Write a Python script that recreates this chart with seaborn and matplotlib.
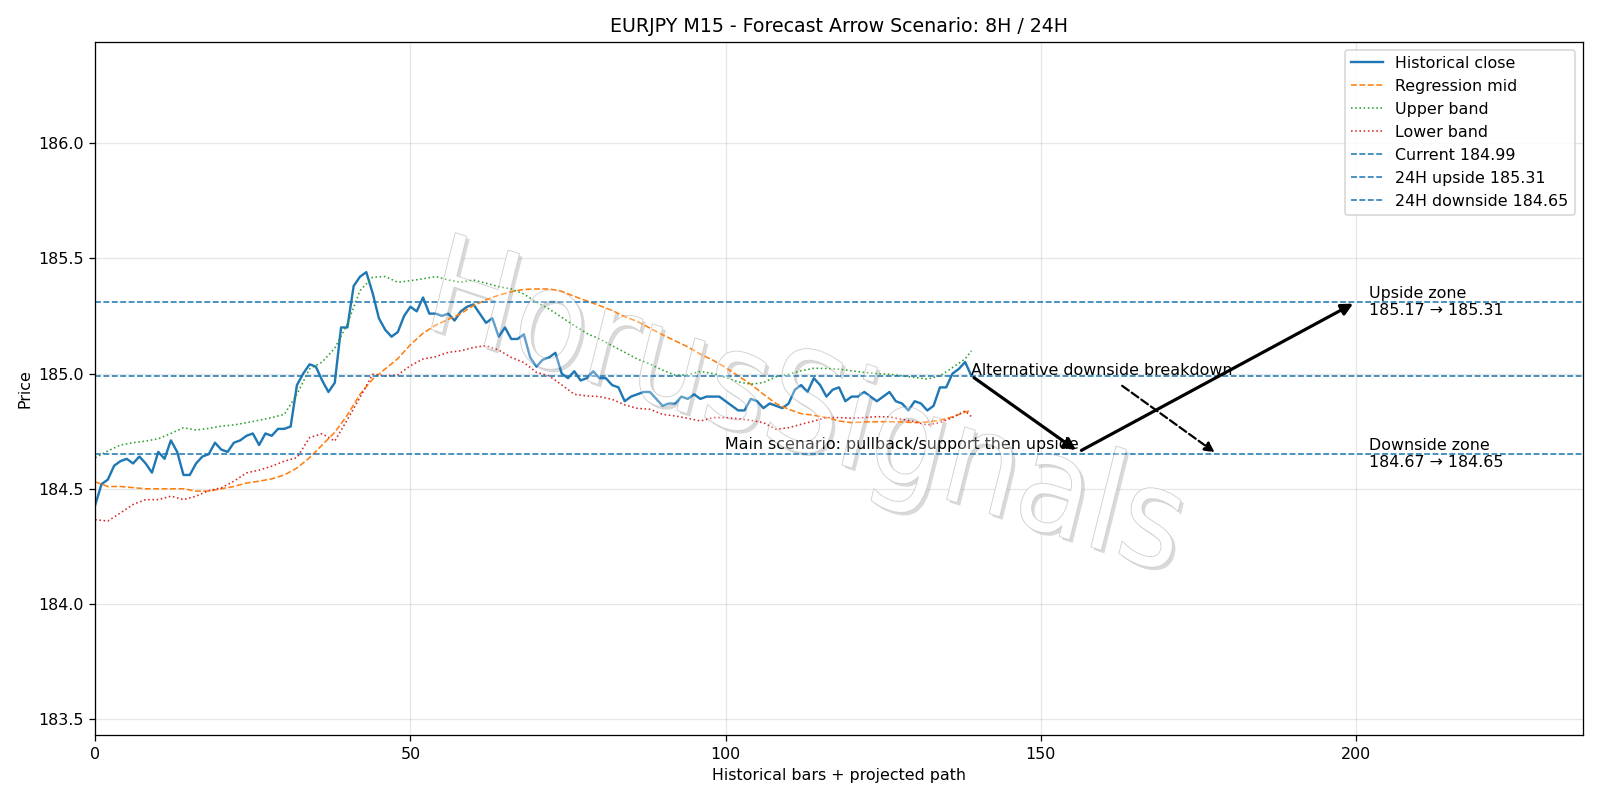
import matplotlib
matplotlib.use("Agg")
import matplotlib.pyplot as plt
import seaborn as sns
from matplotlib.textpath import TextPath
from matplotlib.patches import PathPatch
from matplotlib.font_manager import FontProperties
from matplotlib.transforms import Affine2D, IdentityTransform

# historical M15 closes (bars 0..139)
close = [
    184.43, 184.52, 184.54, 184.60, 184.62, 184.63, 184.61, 184.64, 184.61, 184.57,
    184.66, 184.63, 184.71, 184.66, 184.56, 184.56, 184.61, 184.64, 184.65, 184.70,
    184.67, 184.66, 184.70, 184.71, 184.73, 184.74, 184.69, 184.74, 184.73, 184.76,
    184.76, 184.77, 184.95, 185.00, 185.04, 185.03, 184.97, 184.92, 184.96, 185.20,
    185.20, 185.38, 185.42, 185.44, 185.35, 185.24, 185.19, 185.16, 185.18, 185.25,
    185.29, 185.27, 185.33, 185.26, 185.26, 185.25, 185.26, 185.23, 185.27, 185.29,
    185.30, 185.26, 185.22, 185.24, 185.16, 185.20, 185.15, 185.15, 185.17, 185.07,
    185.03, 185.06, 185.07, 185.09, 185.00, 184.98, 185.01, 184.97, 184.98, 185.01,
    184.98, 184.98, 184.95, 184.94, 184.88, 184.90, 184.91, 184.92, 184.92, 184.89,
    184.86, 184.87, 184.87, 184.90, 184.89, 184.91, 184.89, 184.90, 184.90, 184.90,
    184.88, 184.86, 184.84, 184.84, 184.89, 184.88, 184.85, 184.87, 184.86, 184.85,
    184.87, 184.93, 184.95, 184.92, 184.98, 184.95, 184.90, 184.93, 184.94, 184.88,
    184.90, 184.90, 184.92, 184.90, 184.88, 184.90, 184.92, 184.88, 184.87, 184.84,
    184.88, 184.87, 184.84, 184.86, 184.94, 184.94, 185.00, 185.02, 185.05, 184.99,
]
bars = list(range(len(close)))

# regression channel, read every 2 bars
band_x = list(range(0, 139, 2)) + [139]
mid = [
    184.53, 184.51, 184.51, 184.505, 184.50, 184.50, 184.50, 184.50, 184.49, 184.49,
    184.50, 184.51, 184.525, 184.533, 184.543, 184.56, 184.59, 184.635, 184.69, 184.745,
    184.82, 184.91, 184.975, 185.02, 185.065, 185.125, 185.175, 185.21, 185.235, 185.26,
    185.295, 185.32, 185.34, 185.355, 185.365, 185.367, 185.367, 185.357, 185.335, 185.315,
    185.295, 185.273, 185.247, 185.226, 185.197, 185.168, 185.142, 185.116, 185.084, 185.058,
    185.026, 184.99, 184.954, 184.91, 184.87, 184.845, 184.826, 184.819, 184.809, 184.794,
    184.787, 184.79, 184.791, 184.791, 184.79, 184.787, 184.79, 184.797, 184.812, 184.833,
    184.84,
]
upper = [
    184.635, 184.664, 184.69, 184.70, 184.707, 184.717, 184.74, 184.765, 184.755, 184.762,
    184.772, 184.777, 184.787, 184.797, 184.809, 184.823, 184.91, 185.02, 185.05, 185.11,
    185.215, 185.36, 185.418, 185.421, 185.396, 185.403, 185.411, 185.421, 185.406, 185.396,
    185.406, 185.392, 185.377, 185.367, 185.345, 185.31, 185.28, 185.244, 185.208, 185.174,
    185.15, 185.121, 185.092, 185.063, 185.041, 185.015, 184.993, 184.994, 185.009, 185.0,
    184.983, 184.964, 184.954, 184.961, 184.986, 184.997, 185.012, 185.023, 185.022, 185.019,
    185.012, 185.005, 185.0, 184.997, 184.99, 184.983, 184.976, 184.99, 185.026, 185.063,
    185.099,
]
lower = [
    184.366, 184.36, 184.395, 184.432, 184.453, 184.453, 184.468, 184.453, 184.468, 184.492,
    184.504, 184.533, 184.569, 184.581, 184.598, 184.62, 184.635, 184.722, 184.739, 184.707,
    184.80, 184.896, 184.997, 184.99, 184.994, 185.034, 185.063, 185.073, 185.092, 185.099,
    185.113, 185.121, 185.102, 185.07, 185.048, 185.005, 184.99, 184.951, 184.91, 184.903,
    184.90, 184.888, 184.864, 184.849, 184.845, 184.823, 184.816, 184.806, 184.794, 184.809,
    184.809, 184.804, 184.797, 184.787, 184.758, 184.765, 184.78, 184.794, 184.809, 184.809,
    184.806, 184.809, 184.813, 184.812, 184.801, 184.791, 184.777, 184.787, 184.809, 184.838,
    184.813,
]

current = 184.99
up_24h = 185.31
down_24h = 184.65
up_zone = (185.17, 185.31)
down_zone = (184.67, 184.65)

# projected path points (bar index, price)
pullback = (156, 184.66)
target_up = (200, 185.31)
alt_start = (162.5, 184.955)
alt_end = (178, 184.65)

fig, ax = plt.subplots(figsize=(14, 7), dpi=800 / 7)

sns.lineplot(x=bars, y=close, ax=ax, color="C0", linewidth=1.5, label="Historical close")
sns.lineplot(x=band_x, y=mid, ax=ax, color="C1", linewidth=1, linestyle="--", label="Regression mid")
sns.lineplot(x=band_x, y=upper, ax=ax, color="C2", linewidth=1, linestyle=":", label="Upper band")
sns.lineplot(x=band_x, y=lower, ax=ax, color="C3", linewidth=1, linestyle=":", label="Lower band")

ax.axhline(current, color="C0", linestyle="--", linewidth=1, label=f"Current {current:.2f}")
ax.axhline(up_24h, color="C0", linestyle="--", linewidth=1, label=f"24H upside {up_24h:.2f}")
ax.axhline(down_24h, color="C0", linestyle="--", linewidth=1, label=f"24H downside {down_24h:.2f}")

last = (bars[-1], close[-1])
ax.annotate("", xy=pullback, xytext=last,
            arrowprops=dict(arrowstyle="-|>", color="black", lw=2, mutation_scale=15))
ax.annotate("", xy=target_up, xytext=pullback,
            arrowprops=dict(arrowstyle="-|>", color="black", lw=2, mutation_scale=15))
ax.annotate("", xy=alt_end, xytext=alt_start,
            arrowprops=dict(arrowstyle="-|>", color="black", lw=1.4, linestyle="--", mutation_scale=13))

ax.text(pullback[0], pullback[1], "Main scenario: pullback/support then upside",
        ha="right", va="bottom", fontsize=10)
ax.text(last[0], current - 0.01, "Alternative downside breakdown", ha="left", va="bottom", fontsize=10)
ax.text(202, up_24h, f"Upside zone\n{up_zone[0]:.2f} \u2192 {up_zone[1]:.2f}", ha="left", va="center", fontsize=10)
ax.text(202, down_24h, f"Downside zone\n{down_zone[0]:.2f} \u2192 {down_zone[1]:.2f}", ha="left", va="center", fontsize=10)

ax.set_xlim(0, 236)
ax.set_ylim(min(close) - 1.0, max(close) + 1.0)
ax.grid(True, alpha=0.3)
ax.set_title("EURJPY M15 - Forecast Arrow Scenario: 8H / 24H")
ax.set_xlabel("Historical bars + projected path")
ax.set_ylabel("Price")
ax.legend(loc="upper right")

plt.tight_layout()

# watermark: slanted outlined text with a soft shadow, in pixel coords
tp = TextPath((0, 0), "HorusSignals", size=1, prop=FontProperties(family="DejaVu Sans"))
ext = tp.get_extents()
wm = (Affine2D()
      .translate(-(ext.x0 + ext.width / 2), -(ext.y0 + ext.height / 2))
      .rotate_deg(-16)
      .scale(120, 138)
      .translate(808, 386))
wm_path = wm.transform_path(tp)
shadow = (Affine2D().translate(3, -3)).transform_path(wm_path)
ax.add_patch(PathPatch(shadow, transform=IdentityTransform(), facecolor="#a0a0a0",
                       edgecolor="none", alpha=0.4, zorder=1.5))
ax.add_patch(PathPatch(wm_path, transform=IdentityTransform(), facecolor="white",
                       edgecolor="#cccccc", linewidth=0.6, zorder=1.6))
ax.add_patch(PathPatch(wm_path, transform=IdentityTransform(), facecolor="white",
                       edgecolor="none", alpha=0.3, zorder=4))

plt.savefig("out.png")
